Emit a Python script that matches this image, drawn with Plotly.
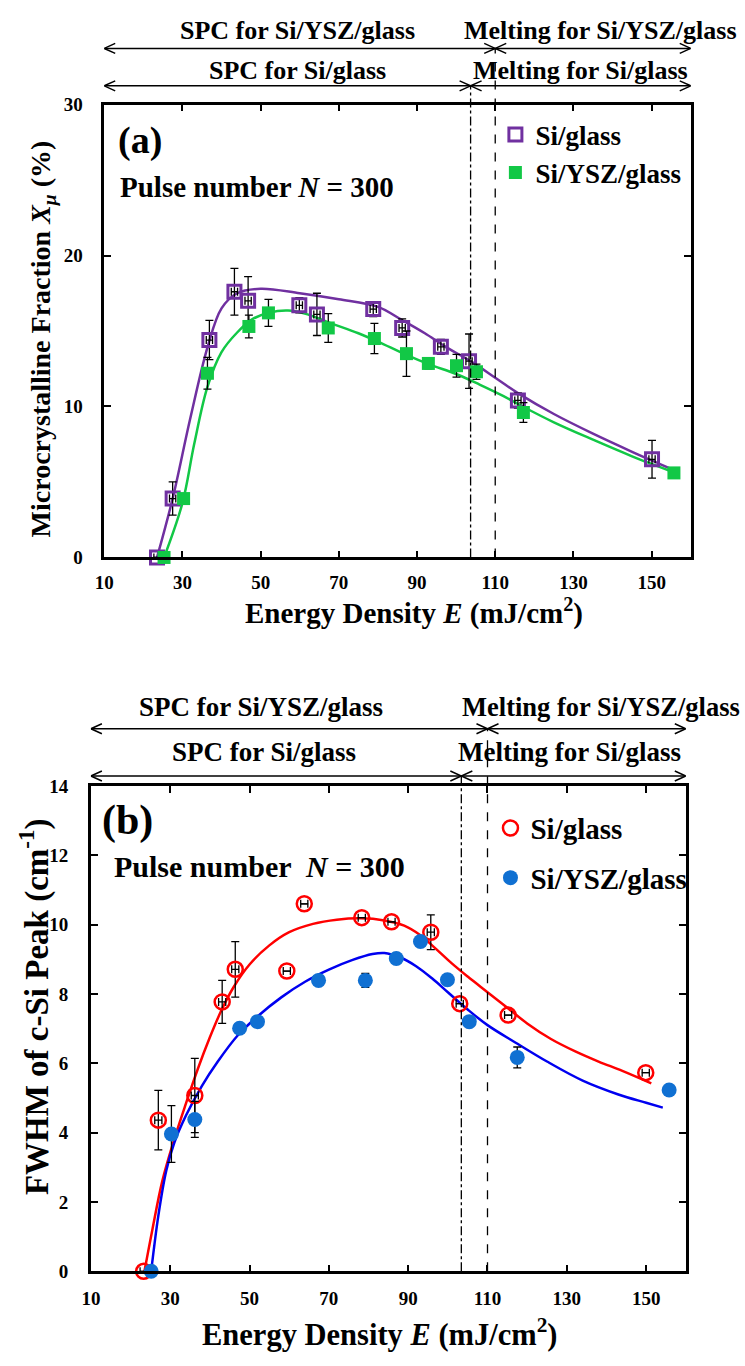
import plotly.graph_objects as go

# ---------------- data: panel (a) microcrystalline fraction ----------------
a_si_x = [23.5, 27.5, 36.9, 43.3, 46.8, 59.9, 64.4, 78.8, 86.2, 96.1, 103.3, 115.8, 150.1]
a_si_y = [0, 3.9, 14.4, 17.6, 17.0, 16.7, 16.1, 16.45, 15.2, 13.95, 13.0, 10.4, 6.5]
a_si_err = [0, 1.1, 1.3, 1.55, 1.6, 0.5, 1.4, 0.5, 0.6, 0.5, 1.8, 0.5, 1.25]

a_ysz_x = [25.3, 30.3, 36.4, 47.0, 52.0, 67.3, 79.1, 87.3, 92.9, 100.1, 105.2, 117.2, 155.7]
a_ysz_y = [0, 3.9, 12.2, 15.3, 16.2, 15.2, 14.5, 13.5, 12.85, 12.7, 12.3, 9.6, 5.6]
a_ysz_err = [0, 0, 1.05, 0.75, 0.9, 0.95, 1.0, 1.5, 0.35, 0.75, 0.5, 0.65, 0.2]

a_si_fit_x = [23.5, 27.5, 32, 36.5, 40, 44, 50, 60, 70, 80, 86, 92, 97, 104, 110, 116, 125, 135, 145, 152, 156]
a_si_fit_y = [0, 3.9, 9.2, 14.0, 16.5, 17.5, 17.8, 17.5, 17.1, 16.6, 15.75, 14.85, 14.0, 12.95, 11.9, 10.85, 9.5, 8.2, 7.0, 6.2, 5.75]

a_ysz_fit_x = [25.3, 30, 33, 36.4, 40, 44, 48, 52, 57, 62, 67, 75, 80, 87, 93, 100, 106, 112, 117, 125, 135, 145, 152, 157]
a_ysz_fit_y = [0, 3.6, 7.5, 11.3, 13.6, 14.9, 15.8, 16.2, 16.35, 16.1, 15.6, 14.85, 14.3, 13.45, 12.8, 12.15, 11.45, 10.7, 10.0, 8.95, 7.8, 6.7, 6.0, 5.5]

# ---------------- data: panel (b) FWHM of c-Si peak ----------------
b_si_x = [23.3, 27.0, 36.2, 43.1, 46.4, 59.4, 63.8, 78.3, 85.8, 95.7, 103.0, 115.2, 149.9]
b_si_y = [0, 4.36, 5.07, 7.77, 8.71, 8.66, 10.6, 10.2, 10.08, 9.78, 7.72, 7.39, 5.73]
b_si_err = [0, 0.86, 1.07, 0.62, 0.8, 0, 0, 0, 0, 0.5, 0, 0, 0]

b_ysz_x = [25.2, 30.3, 36.2, 47.5, 52.0, 67.4, 79.2, 87.0, 93.1, 99.9, 105.4, 117.5, 155.8]
b_ysz_y = [0, 3.96, 4.38, 7.01, 7.2, 8.39, 8.39, 9.02, 9.51, 8.41, 7.2, 6.17, 5.23]
b_ysz_err = [0, 0.82, 0.52, 0, 0, 0, 0.2, 0, 0, 0, 0, 0.3, 0]

b_si_fit_x = [23.5, 25.5, 28, 31, 34, 37, 40, 43, 46, 50, 55, 60, 66, 72, 78, 84, 89, 93, 97, 101, 105, 110, 115, 120, 126, 132, 138, 144, 151.3]
b_si_fit_y = [0, 1.2, 2.6, 3.8, 4.85, 5.85, 6.75, 7.55, 8.2, 8.85, 9.4, 9.78, 10.02, 10.14, 10.18, 10.12, 9.97, 9.7, 9.3, 8.88, 8.5, 8.05, 7.6, 7.15, 6.7, 6.35, 6.05, 5.78, 5.42]

b_ysz_fit_x = [25.2, 27, 29, 31, 34, 38, 42, 47, 52, 58, 64, 70, 76, 81, 84, 88, 92, 96, 100, 105, 110, 117, 125, 134, 143, 150, 154.2]
b_ysz_fit_y = [0, 1.6, 2.9, 3.7, 4.5, 5.35, 6.05, 6.8, 7.35, 7.9, 8.35, 8.7, 8.98, 9.15, 9.18, 9.05, 8.8, 8.45, 8.05, 7.55, 7.1, 6.6, 6.05, 5.5, 5.1, 4.86, 4.72]

# thresholds (energy density where melting starts)
a_thr_si = 103.7
b_thr_si = 103.4
thr_ysz = 110.0
e_min, e_max = 10, 160

x_ticks = [10, 30, 50, 70, 90, 110, 130, 150]

# ---------------- style ----------------
FONT = "Liberation Serif"
PURPLE = "rgb(112,48,160)"
GREEN = "rgb(18,200,70)"
RED = "rgb(255,0,0)"
BLUE_M = "rgb(16,112,210)"
BLUE_L = "rgb(0,0,240)"

W, H = 745, 1366
def px(x):
    return x / W
def py(y):
    return 1 - y / H

dom_a_x = [px(95.5), px(690)]
dom_a_y = [py(556), py(96)]
dom_b_x = [px(82), px(685)]
dom_b_y = [py(1281), py(788)]

fig = go.Figure()

def errbar(vals):
    return dict(type="data", array=vals, visible=True, color="black", thickness=1.3, width=4)

# panel (a) curves
fig.add_trace(go.Scatter(x=a_si_fit_x, y=a_si_fit_y, mode="lines", line=dict(color=PURPLE, width=2.5, shape="spline"),
                         showlegend=False, xaxis="x", yaxis="y", hoverinfo="skip"))
fig.add_trace(go.Scatter(x=a_ysz_fit_x, y=a_ysz_fit_y, mode="lines", line=dict(color=GREEN, width=2.5, shape="spline"),
                         showlegend=False, xaxis="x", yaxis="y", hoverinfo="skip"))
# panel (a) markers
fig.add_trace(go.Scatter(x=a_si_x, y=a_si_y, mode="markers", name="Si/glass",
                         marker=dict(symbol="square-open", size=13, color=PURPLE, line=dict(width=3, color=PURPLE)),
                         error_y=errbar(a_si_err), error_x=errbar([0.8] * len(a_si_x)),
                         cliponaxis=False, xaxis="x", yaxis="y", legend="legend"))
fig.add_trace(go.Scatter(x=a_ysz_x, y=a_ysz_y, mode="markers", name="Si/YSZ/glass",
                         marker=dict(symbol="square", size=13, color=GREEN, line=dict(width=0)),
                         error_y=errbar(a_ysz_err),
                         cliponaxis=False, xaxis="x", yaxis="y", legend="legend"))

# panel (b) curves
fig.add_trace(go.Scatter(x=b_si_fit_x, y=b_si_fit_y, mode="lines", line=dict(color=RED, width=2.5, shape="spline"),
                         showlegend=False, xaxis="x2", yaxis="y2", hoverinfo="skip"))
fig.add_trace(go.Scatter(x=b_ysz_fit_x, y=b_ysz_fit_y, mode="lines", line=dict(color=BLUE_L, width=2.5, shape="spline"),
                         showlegend=False, xaxis="x2", yaxis="y2", hoverinfo="skip"))
fig.add_trace(go.Scatter(x=b_si_x, y=b_si_y, mode="markers", name="Si/glass", legendgroup="b1",
                         marker=dict(symbol="circle-open", size=15, color=RED, line=dict(width=2.5, color=RED)),
                         error_y=errbar(b_si_err), error_x=errbar([0.9] * len(b_si_x)),
                         cliponaxis=False, xaxis="x2", yaxis="y2", legend="legend2"))
fig.add_trace(go.Scatter(x=b_ysz_x, y=b_ysz_y, mode="markers", name="Si/YSZ/glass", legendgroup="b2",
                         marker=dict(symbol="circle", size=15, color=BLUE_M, line=dict(width=0)),
                         error_y=errbar(b_ysz_err),
                         cliponaxis=False, xaxis="x2", yaxis="y2", legend="legend2"))

axis_common = dict(showline=True, linecolor="black", linewidth=2.5, mirror="ticks", ticks="inside",
                   ticklen=7, tickwidth=2, tickcolor="black", showgrid=False, zeroline=False,
                   tickfont=dict(family=FONT, size=19, color="black", weight="bold"))

fig.update_layout(
    width=W, height=H, margin=dict(l=0, r=0, t=0, b=0),
    paper_bgcolor="white", plot_bgcolor="white",
    font=dict(family=FONT, color="black"),
    xaxis=dict(domain=dom_a_x, range=[e_min, e_max], tickvals=x_ticks, anchor="y",
               ticklabelstandoff=6, **axis_common),
    yaxis=dict(domain=dom_a_y, range=[0, 30], tickvals=[0, 10, 20, 30], anchor="x",
               ticklabelstandoff=15, **axis_common),
    xaxis2=dict(domain=dom_b_x, range=[e_min, e_max], tickvals=x_ticks, anchor="y2",
                ticklabelstandoff=8, **axis_common),
    yaxis2=dict(domain=dom_b_y, range=[0, 14], tickvals=[0, 2, 4, 6, 8, 10, 12, 14], anchor="x2",
                ticklabelstandoff=16, **axis_common),
    legend=dict(x=px(492), y=py(102), xanchor="left", yanchor="top", bgcolor="rgba(0,0,0,0)",
                font=dict(family=FONT, size=27, color="black", weight="bold"), itemwidth=30,
                tracegroupgap=0),
    legend2=dict(x=px(487), y=py(805), xanchor="left", yanchor="top", bgcolor="rgba(0,0,0,0)",
                 font=dict(family=FONT, size=29, color="black", weight="bold"), itemwidth=30,
                 traceorder="grouped", tracegroupgap=9),
)

annotations = []
shapes = []

LINE = dict(color="black", width=1.5)

def chevron(xd, yp, xr, direction):
    # open arrow head ("<" when direction=-1 pointing left, ">" when +1 pointing right)
    d = -direction
    shapes.append(dict(type="path", xref=xr, yref="paper", xsizemode="pixel", ysizemode="pixel",
                       xanchor=xd, yanchor=yp,
                       path=f"M{d*11},5 L0,0 L{d*11},-5", line=LINE))

def region_arrow(x0, x1, yp, xr):
    shapes.append(dict(type="line", xref=xr, yref="paper", x0=x0, x1=x1, y0=yp, y1=yp, line=LINE))
    chevron(x0, yp, xr, -1)
    chevron(x1, yp, xr, 1)

def label(txt, x, yp, xr, size, anchor="center"):
    annotations.append(dict(x=x, y=yp, xref=xr, yref="paper", text="<b>" + txt + "</b>", showarrow=False,
                            xanchor=anchor, yanchor="middle",
                            font=dict(family=FONT, size=size, color="black")))

def paper_text(txt, x, y, size, anchor="center", angle=0):
    annotations.append(dict(x=px(x), y=py(y), xref="paper", yref="paper", text="<b>" + txt + "</b>",
                            showarrow=False, xanchor=anchor, yanchor="middle", textangle=angle,
                            font=dict(family=FONT, size=size, color="black")))

# panel (a) regime annotations
ya_up, ya_lo = py(39), py(77)
region_arrow(e_min, thr_ysz, ya_up, "x")
region_arrow(thr_ysz, e_max, ya_up, "x")
region_arrow(e_min, a_thr_si, ya_lo, "x")
region_arrow(a_thr_si, e_max, ya_lo, "x")
label("SPC for Si/YSZ/glass", 59.5, py(20.5), "x", 26)
label("Melting for Si/YSZ/glass", 136.8, py(20.5), "x", 26)
label("SPC for Si/glass", 59.5, py(61), "x", 26)
label("Melting for Si/glass", 131.8, py(61), "x", 26)
shapes.append(dict(type="line", xref="x", yref="paper", x0=a_thr_si, x1=a_thr_si, y0=dom_a_y[0], y1=ya_lo,
                   line=dict(color="black", width=1.3, dash="dashdot")))
shapes.append(dict(type="line", xref="x", yref="paper", x0=thr_ysz, x1=thr_ysz, y0=dom_a_y[0], y1=ya_up,
                   line=dict(color="black", width=1.3, dash="dash")))

# panel (b) regime annotations
yb_up, yb_lo = py(730), py(778)
region_arrow(e_min, thr_ysz, yb_up, "x2")
region_arrow(thr_ysz, e_max, yb_up, "x2")
region_arrow(e_min, b_thr_si, yb_lo, "x2")
region_arrow(b_thr_si, e_max, yb_lo, "x2")
label("SPC for Si/YSZ/glass", 53.0, py(707.5), "x2", 27)
paper_text("Melting for Si/YSZ/glass", 742, 707.5, 26.5, anchor="right")
label("SPC for Si/glass", 53.7, py(754), "x2", 27)
label("Melting for Si/glass", 130.8, py(754), "x2", 27)
shapes.append(dict(type="line", xref="x2", yref="paper", x0=b_thr_si, x1=b_thr_si, y0=dom_b_y[0], y1=yb_lo,
                   line=dict(color="black", width=1.3, dash="dashdot")))
shapes.append(dict(type="line", xref="x2", yref="paper", x0=thr_ysz, x1=thr_ysz, y0=dom_b_y[0], y1=yb_up,
                   line=dict(color="black", width=1.3, dash="dash")))

# axis titles
xtitle = "Energy Density <i>E</i> (mJ/cm<sup>2</sup>)"
paper_text(xtitle, 409.5, 611, 29)
paper_text("Microcrystalline Fraction <i>X<sub>μ</sub></i> (%)", 33, 334, 28, angle=-90)
paper_text(xtitle, 375, 1343, 30.5)
paper_text("FWHM of c-Si Peak (cm<sup>-1</sup>)", 25, 1012, 33, angle=-90)

# panel labels and pulse number
paper_text("(a)", 132, 133, 38)
paper_text("Pulse number <i>N</i> = 300", 109, 180, 29, anchor="left")
paper_text("(b)", 119, 823, 42)
paper_text("Pulse number  <i>N</i> = 300", 103, 870, 30, anchor="left")

fig.update_layout(annotations=annotations, shapes=shapes)

fig.write_html("out.html", config={"displayModeBar": False},
               post_script="document.body.style.margin='0px';document.body.style.overflow='hidden';")
